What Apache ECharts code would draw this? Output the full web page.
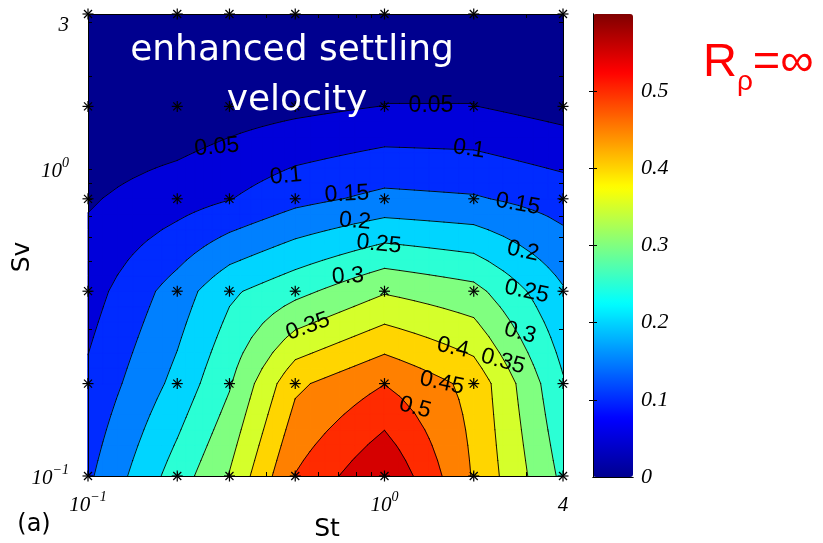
<!DOCTYPE html>
<html>
<head>
<meta charset="utf-8">
<title>enhanced settling velocity</title>
<script src="https://cdn.jsdelivr.net/npm/echarts@6.0.0/dist/echarts.min.js"></script>
<style>
  html, body { margin: 0; padding: 0; background: #fff; }
  #chart { width: 823px; height: 543px; }
</style>
</head>
<body>
<div id="chart"></div>
<script>
// simulation points
var stValues = [0.1, 0.2, 0.3, 0.5, 1, 2, 4];
var svValues = [0.1, 0.2, 0.4, 0.8, 1.6, 3.2];
// velocity enhancement, one row per Sv (bottom to top), one entry per St
var vSv01 = [0.141, 0.274, 0.353, 0.502, 0.600, 0.445, 0.288];
var vSv02 = [0.110, 0.215, 0.295, 0.440, 0.499, 0.435, 0.255];
var vSv04 = [0.078, 0.173, 0.241, 0.285, 0.345, 0.316, 0.205];
var vSv08 = [0.045, 0.077, 0.098, 0.135, 0.163, 0.155, 0.128];
var vSv16 = [0.010, 0.012, 0.026, 0.037, 0.051, 0.051, 0.030];
var vSv32 = [0.002, 0.005, 0.010, 0.015, 0.020, 0.020, 0.015];
var levels = [0, 0.05, 0.1, 0.15, 0.2, 0.25, 0.3, 0.35, 0.4, 0.45, 0.5, 0.55];

// contour labels (clabel), placed in (St, Sv)
var labelText = ['0.05', '0.05', '0.1', '0.1', '0.15', '0.15', '0.2', '0.2', '0.25', '0.25', '0.3', '0.3', '0.35', '0.35', '0.4', '0.45', '0.5'];
var labelSt = [0.272, 1.435, 0.465, 1.928, 0.747, 2.82, 0.795, 2.93, 0.958, 3.02, 0.753, 2.864, 0.552, 2.51, 1.702, 1.563, 1.267];
var labelSv = [1.18, 1.607, 0.949, 1.163, 0.829, 0.769, 0.676, 0.540, 0.569, 0.399, 0.447, 0.293, 0.307, 0.236, 0.262, 0.201, 0.167];

var stTicks = [0.1, 1, 4];
var svTicks = [0.1, 1, 3];
var stMinor = [0.2, 0.3, 0.4, 0.5, 0.6, 0.7, 0.8, 0.9, 1, 2, 3];
var svMinor = [0.2, 0.3, 0.4, 0.5, 0.6, 0.7, 0.8, 0.9, 1, 2, 3];
var barTicks = [0, 0.1, 0.2, 0.3, 0.4, 0.5];

var rows = [vSv01, vSv02, vSv04, vSv08, vSv16, vSv32];
var labelTilt = [5, 0, 5, -8, 3, -10, -5, -12, -5, -12, 3, -15, 20, -15, -12, -12, -15];
var jet = ['#00008f', '#0000ff', '#0080ff', '#00ffff', '#80ff80', '#ffff00', '#ff8000', '#ff0000', '#800000'];
var SUB = 6; // sub-steps per cell when tracing a contour through it

var minAll = Math.min.apply(null, rows.map(function (r) { return Math.min.apply(null, r); }));

var chart = echarts.init(document.getElementById('chart'));

// clip one quad (corner points + values) to value >= lev
function clipQuad(pts, vals, lev, poly, cut) {
    for (var k = 0; k < 4; k++) {
        var k2 = (k + 1) % 4;
        var va = vals[k], vb = vals[k2], pa = pts[k], pb = pts[k2];
        if (va >= lev) poly.push(pa);
        if ((va >= lev) !== (vb >= lev)) {
            var t = (lev - va) / (vb - va);
            var p = [pa[0] + t * (pb[0] - pa[0]), pa[1] + t * (pb[1] - pa[1])];
            poly.push(p);
            cut.push(p);
        }
    }
}

// filled contour band: region where value >= level
function renderBand(params, api) {
    var lev = api.value(2);
    var color = api.visual('color');
    var fillStyle = { fill: color, stroke: color, lineWidth: 1 };
    var px = rows.map(function (row, j) {
        return stValues.map(function (s) { return api.coord([s, svValues[j]]); });
    });
    var nx = stValues.length - 1, ny = svValues.length - 1;
    var children = [];
    if (lev <= minAll) {
        children.push({ type: 'polygon', z2: 0, shape: { points: [px[0][0], px[0][nx], px[ny][nx], px[ny][0]] }, style: { fill: color } });
        return { type: 'group', children: children };
    }
    for (var j = 0; j < ny; j++) {
        for (var i = 0; i < nx; i++) {
            var c00 = rows[j][i], c10 = rows[j][i + 1], c01 = rows[j + 1][i], c11 = rows[j + 1][i + 1];
            var p00 = px[j][i], p11 = px[j + 1][i + 1];
            var lo = Math.min(c00, c10, c01, c11), hi = Math.max(c00, c10, c01, c11);
            if (hi < lev) continue;
            if (lo >= lev) {
                children.push({ type: 'polygon', z2: params.dataIndex, shape: { points: [px[j][i], px[j][i + 1], px[j + 1][i + 1], px[j + 1][i]] }, style: fillStyle });
                continue;
            }
            for (var b = 0; b < SUB; b++) {
                for (var a = 0; a < SUB; a++) {
                    var ss = [a / SUB, (a + 1) / SUB], tt = [b / SUB, (b + 1) / SUB];
                    var pts = [], vals = [];
                    [[0, 0], [1, 0], [1, 1], [0, 1]].forEach(function (q) {
                        var s = ss[q[0]], t = tt[q[1]];
                        vals.push((1 - s) * (1 - t) * c00 + s * (1 - t) * c10 + (1 - s) * t * c01 + s * t * c11);
                        pts.push([p00[0] + s * (p11[0] - p00[0]), p00[1] + t * (p11[1] - p00[1])]);
                    });
                    var poly = [], cut = [];
                    clipQuad(pts, vals, lev, poly, cut);
                    if (poly.length >= 3) {
                        children.push({ type: 'polygon', z2: params.dataIndex, shape: { points: poly }, style: fillStyle });
                    }
                    for (var c = 0; c + 1 < cut.length; c += 2) {
                        children.push({
                            type: 'line', z2: 100,
                            shape: { x1: cut[c][0], y1: cut[c][1], x2: cut[c + 1][0], y2: cut[c + 1][1] },
                            style: { stroke: '#000', lineWidth: 0.9, lineCap: 'round' }
                        });
                    }
                }
            }
        }
    }
    return { type: 'group', children: children };
}

function renderStar(params, api) {
    var p = api.coord([api.value(0), api.value(1)]);
    var r = 5.5, d = 4;
    var segs = [[-r, 0, r, 0], [0, -r, 0, r], [-d, -d, d, d], [-d, d, d, -d]];
    return {
        type: 'group',
        children: segs.map(function (s) {
            return {
                type: 'line',
                shape: { x1: p[0] + s[0], y1: p[1] + s[1], x2: p[0] + s[2], y2: p[1] + s[3] },
                style: { stroke: '#000', lineWidth: 1.2 }
            };
        })
    };
}

function renderLabel(params, api) {
    var p = api.coord([api.value(0), api.value(1)]);
    return {
        type: 'text', x: p[0], y: p[1],
        rotation: labelTilt[params.dataIndex] * Math.PI / 180,
        style: {
            text: labelText[params.dataIndex], fill: '#000',
            font: '23px "Liberation Sans"', textAlign: 'center', textVerticalAlign: 'middle'
        }
    };
}

function powLabel(v) {
    if (Math.abs(v - 0.1) < 1e-9) return '{b|10}{s|\u22121}';
    if (Math.abs(v - 1) < 1e-9) return '{b|10}{s|0}';
    return '{b|' + v + '}';
}

var tickRich = {
    b: { fontFamily: 'Liberation Serif', fontStyle: 'italic', fontSize: 21, color: '#000', lineHeight: 26, verticalAlign: 'bottom' },
    s: { fontFamily: 'Liberation Serif', fontStyle: 'italic', fontSize: 14, color: '#000', lineHeight: 26, verticalAlign: 'top' }
};

function logAxis(pos, min, max, labels, minor, showLabel, margin) {
    return {
        type: 'log', logBase: 10, gridIndex: 0, position: pos, min: min, max: max, z: 10,
        axisLine: { show: true, lineStyle: { color: '#000', width: 1 } },
        axisTick: { show: true, inside: true, length: 4, customValues: minor, lineStyle: { color: '#000' } },
        axisLabel: { show: showLabel, customValues: labels, formatter: powLabel, rich: tickRich, margin: margin },
        splitLine: { show: false }
    };
}

function barAxis(pos, isY, showLabel) {
    return {
        type: 'value', gridIndex: 1, position: pos, min: 0, max: isY ? 0.6 : 1, z: 10,
        axisLine: { show: true, lineStyle: { color: '#000', width: 1 } },
        axisTick: { show: isY, inside: true, length: 4, customValues: [0.1, 0.2, 0.3, 0.4, 0.5], lineStyle: { color: '#000' } },
        axisLabel: {
            show: showLabel, customValues: barTicks, margin: 8, color: '#000',
            fontFamily: 'Liberation Serif', fontStyle: 'italic', fontSize: 22
        },
        splitLine: { show: false }
    };
}

var bandData = levels.map(function (lv) { return [stValues[0], svValues[0], lv]; });
var starData = [];
svValues.forEach(function (sv) {
    stValues.forEach(function (st) { starData.push([st, sv]); });
});
var labelData = labelSt.map(function (st, i) { return [st, labelSv[i]]; });

var option = {
    animation: false,
    grid: [
        { left: 88, top: 14, width: 475, height: 462 },
        { left: 593, top: 14, width: 40, height: 463 }
    ],
    xAxis: [
        logAxis('bottom', 0.1, 4, stTicks, stMinor, true, 14),
        logAxis('top', 0.1, 4, stTicks, stMinor, false, 14),
        barAxis('bottom', false, false),
        barAxis('top', false, false)
    ],
    yAxis: [
        logAxis('left', 0.1, 3.2, svTicks, svMinor, true, 19),
        logAxis('right', 0.1, 3.2, svTicks, svMinor, false, 19),
        barAxis('right', true, true),
        barAxis('left', true, false)
    ],
    visualMap: {
        type: 'continuous', min: 0, max: 0.6, dimension: 2, seriesIndex: 0,
        calculable: false, left: 593, top: 14, itemWidth: 40, itemHeight: 463,
        padding: 0, z: 1, inRange: { color: jet }
    },
    series: [
        { type: 'custom', name: 'bands', xAxisIndex: 0, yAxisIndex: 0, z: 1, renderItem: renderBand, data: bandData },
        { type: 'custom', name: 'labels', xAxisIndex: 0, yAxisIndex: 0, z: 3, renderItem: renderLabel, data: labelData },
        { type: 'custom', name: 'runs', xAxisIndex: 0, yAxisIndex: 0, z: 4, renderItem: renderStar, data: starData }
    ],
    graphic: [
        { type: 'text', x: 292, y: 51, z: 20, style: { text: 'enhanced settling', fill: '#fff', font: '36px "DejaVu Sans"', textAlign: 'center', textVerticalAlign: 'middle' } },
        { type: 'text', x: 297, y: 101, z: 20, style: { text: 'velocity', fill: '#fff', font: '36px "DejaVu Sans"', textAlign: 'center', textVerticalAlign: 'middle' } },
        { type: 'text', x: 22, y: 257, rotation: Math.PI / 2, style: { text: 'Sv', fill: '#000', font: '25px "DejaVu Sans"', textAlign: 'center', textVerticalAlign: 'middle' } },
        { type: 'text', x: 327, y: 529, style: { text: 'St', fill: '#000', font: '25px "DejaVu Sans"', textAlign: 'center', textVerticalAlign: 'middle' } },
        { type: 'text', x: 34, y: 525, style: { text: '(a)', fill: '#000', font: '24px "DejaVu Sans"', textAlign: 'center', textVerticalAlign: 'middle' } },
        {
            type: 'text', x: 703, y: 40,
            style: {
                text: '{r|R}{p|\u03c1}{r|=\u221e}', textAlign: 'left', textVerticalAlign: 'top',
                rich: {
                    r: { fill: '#ff0000', fontFamily: 'Liberation Sans', fontSize: 47, lineHeight: 56, verticalAlign: 'top' },
                    p: { fill: '#ff0000', fontFamily: 'Liberation Sans', fontSize: 28, lineHeight: 14, verticalAlign: 'bottom' }
                }
            }
        }
    ]
};
chart.setOption(option);
</script>
</body>
</html>
